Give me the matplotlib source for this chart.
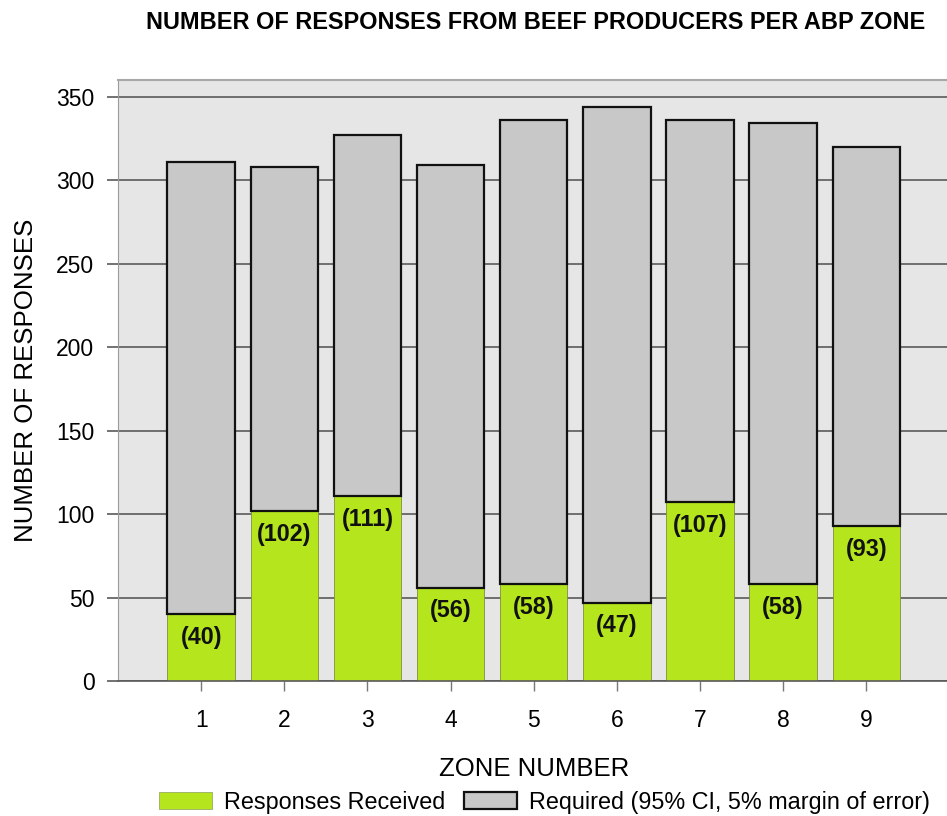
import matplotlib.pyplot as plt
from matplotlib.patches import Patch

plt.rcParams['font.family'] = ['Liberation Sans', 'DejaVu Sans']

zones = [1, 2, 3, 4, 5, 6, 7, 8, 9]
received = [40, 102, 111, 56, 58, 47, 107, 58, 93]
required = [311, 308, 327, 309, 336, 344, 336, 334, 320]
yticks = [0, 50, 100, 150, 200, 250, 300, 350]

green = '#b5e61d'
grey = '#c8c8c8'

fig = plt.figure(figsize=(9.47, 8.16), dpi=100)
ax = fig.add_axes([0.1246, 0.1654, 0.878, 0.7366])
ax.set_facecolor('#e6e6e6')

# green part from 0, grey part stacked on top up to the required count
remaining = [r - g for r, g in zip(required, received)]
ax.bar(zones, received, width=0.81, color=green, edgecolor='#7f8f3f', linewidth=0.6, zorder=2)
ax.bar(zones, remaining, bottom=received, width=0.81, color=grey, edgecolor='#111111', linewidth=1.6, zorder=2)

for z, v in zip(zones, received):
    ax.text(z, v - 14, f'({v})', ha='center', va='center', fontsize=16.8, fontweight='bold', color='#111111', zorder=3)

ax.set_xlim(0, 10)
ax.set_ylim(0, 360)
ax.set_xticks(zones)
ax.set_yticks(yticks)
ax.yaxis.grid(True, color='#5a5a5a', linewidth=1.2)
ax.set_axisbelow(True)

ax.tick_params(axis='y', length=8, width=1.2, color='#5a5a5a', pad=9, labelsize=16.5)
ax.tick_params(axis='x', length=7, width=1, color='#777777', pad=13, labelsize=16.5)

ax.spines['left'].set_color('#9a9a9a')
ax.spines['top'].set_color('#a8a8a8')
ax.spines['top'].set_linewidth(1.5)
ax.spines['right'].set_visible(False)
ax.spines['bottom'].set_color('#5a5a5a')
ax.spines['bottom'].set_linewidth(1.2)

ax.set_xlabel('ZONE NUMBER', fontsize=18.5, labelpad=18)
ax.set_ylabel('NUMBER OF RESPONSES', fontsize=18.6, labelpad=13)

fig.text(0.566, 0.973, 'NUMBER OF RESPONSES FROM BEEF PRODUCERS PER ABP ZONE',
         ha='center', va='center', fontsize=16.9, fontweight='bold')

handles = [Patch(facecolor=green, edgecolor='#9aaa66', linewidth=0.6, label='Responses Received'),
           Patch(facecolor=grey, edgecolor='#111111', linewidth=1.6, label='Required (95% CI, 5% margin of error)')]
fig.legend(handles=handles, loc='center', bbox_to_anchor=(0.575, 0.017), ncol=2, frameon=False,
           fontsize=16.8, handlelength=2.27, handleheight=0.73, handletextpad=0.55, columnspacing=0.77,
           borderaxespad=0, borderpad=0)

fig.savefig('out.png', dpi=100)
